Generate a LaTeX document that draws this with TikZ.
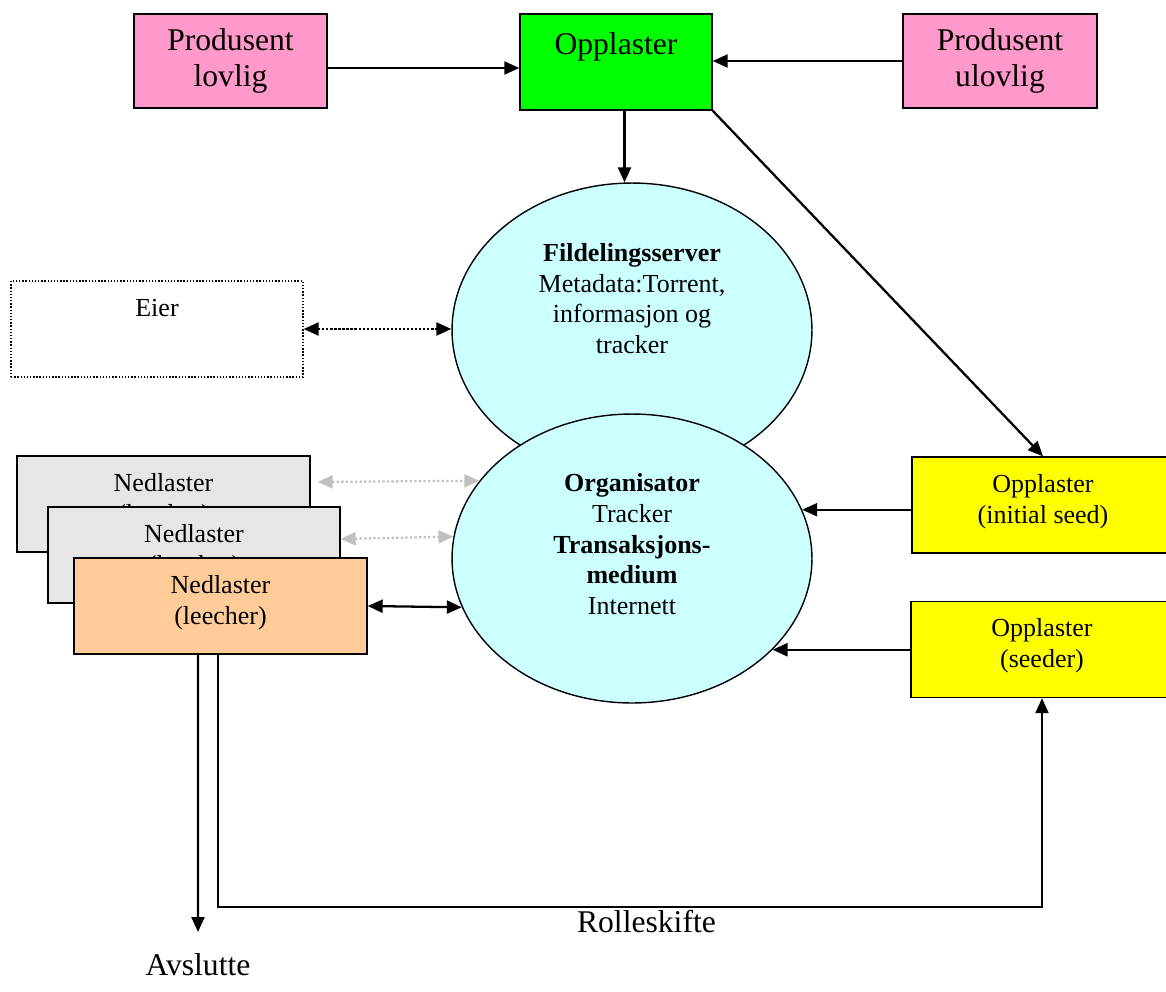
\documentclass[tikz,border=0pt]{standalone}
\usepackage{fontspec}
\setmainfont{Liberation Serif}
\usepackage{tikz}
\usetikzlibrary{arrows.meta}
\usetikzlibrary{shapes,positioning}
\usetikzlibrary{calc}

\definecolor{prodpink}{HTML}{FF99CC}
\definecolor{uplgreen}{HTML}{00FF00}
\definecolor{seedyellow}{HTML}{FFFF00}
\definecolor{servcyan}{HTML}{CCFFFF}
\definecolor{leechorange}{HTML}{FFCC99}
\definecolor{peergray}{HTML}{E6E6E6}
\definecolor{linkgray}{HTML}{C0C0C0}

\newcommand{\bigfont}{\fontsize{18}{20.4}\selectfont}
\newcommand{\smallfont}{\fontsize{14.8}{17.5}\selectfont}

\begin{document}
\begin{tikzpicture}[x=0.02cm,y=-0.02cm,
	box/.style={draw,line width=0.8pt,inner sep=0pt,align=center},
	bigbox/.style={box,font=\bigfont,minimum height=1.88cm},
	card/.style={box,font=\smallfont,text height=1.32cm,text depth=0.6cm},
	cloud/.style={ellipse,draw,line width=0.8pt,fill=servcyan,inner sep=0pt,align=center,font=\smallfont,minimum width=7.2cm},
	link/.style={line width=1.3pt,-{Triangle[length=0.3cm,width=0.26cm]}},
	both/.style={link,{Triangle[length=0.3cm,width=0.26cm]}-{Triangle[length=0.3cm,width=0.26cm]}},
	greylink/.style={both,draw=linkgray,dash pattern=on 1.3pt off 1.3pt}]
\useasboundingbox (0,0) rectangle (1166,991);

% producers and the first uploader
\node[bigbox,fill=prodpink,minimum width=3.86cm] (lovlig) at (230.5,61) {Produsent\\lovlig};
\node[bigbox,fill=uplgreen,minimum width=3.84cm,text height=0.8cm,text depth=1.12cm] (opp) at (616,62) {Opplaster};
\node[bigbox,fill=prodpink,minimum width=3.88cm] (ulovlig) at (1000,61) {Produsent\\ulovlig};

% server and tracker
\node[cloud,minimum height=5.88cm,text height=2.25cm,text depth=1.31cm] (srv) at (632,330) {\textbf{Fildelingsserver}\\Metadata:Torrent,\\informasjon og\\tracker};
\node[cloud,minimum height=5.78cm,text height=2.87cm,text depth=0.63cm] (org) at (632,558.5) {\textbf{Organisator}\\Tracker\\\textbf{Transaksjons-}\\\textbf{medium}\\Internett};

\node[card,densely dotted,minimum width=5.84cm,text height=0.7cm,text depth=1.22cm] (eier) at (157,329) {Eier};

% downloaders, back to front
\node[card,fill=peergray,minimum width=5.86cm] (ned1) at (163.5,504) {Nedlaster\\(leecher)};
\node[card,fill=peergray,minimum width=5.84cm] (ned2) at (194,555) {Nedlaster\\(leecher)};
\node[card,fill=leechorange,minimum width=5.86cm] (ned3) at (220.5,606) {Nedlaster\\(leecher)};

% seeders
\node[card,fill=seedyellow,minimum width=5.24cm] (seed1) at (1043,505) {Opplaster\\(initial seed)};
\node[card,fill=seedyellow,minimum width=5.24cm] (seed2) at (1042,649.5) {Opplaster\\(seeder)};

\node[font=\bigfont,anchor=north,inner sep=0pt] (avs) at (198,953) {Avslutte};
\coordinate (knee) at (1042,907);

\draw[link] ([yshift=-0.14cm]lovlig.east) -- ([yshift=-0.14cm]lovlig.east -| opp.west);
\draw[link] (ulovlig.west) -- (ulovlig.west -| opp.east);
\draw[link] ([xshift=0.17cm]opp.south) -- ([xshift=0.17cm]opp.south |- srv.north);
\draw[link] (opp.south east) -- (seed1.north);
\draw[both,densely dotted] (eier.east) -- (eier.east -| srv.west);

\draw[greylink,shorten <=0.14cm] ([yshift=0.44cm]ned1.east) -- (org.153.4);
\draw[greylink] ([yshift=0.32cm]ned2.east) -- (org.173.8);
\draw[both] (ned3.east) -- (org.196.3);
\draw[link] (seed1.west |- org.16.7) -- (org.16.7);
\draw[link] (seed2.west |- org.327.2) -- (org.327.2);

% leaving or switching role
\draw[link,shorten >=0.42cm] ([xshift=-0.45cm]ned3.south) -- (avs.north);
\draw[link] ([xshift=-0.05cm]ned3.south) |- node[pos=0.76,below,font=\bigfont,inner sep=1pt] (rolle) {Rolleskifte} (knee) -- (seed2.south);

\end{tikzpicture}
\end{document}
